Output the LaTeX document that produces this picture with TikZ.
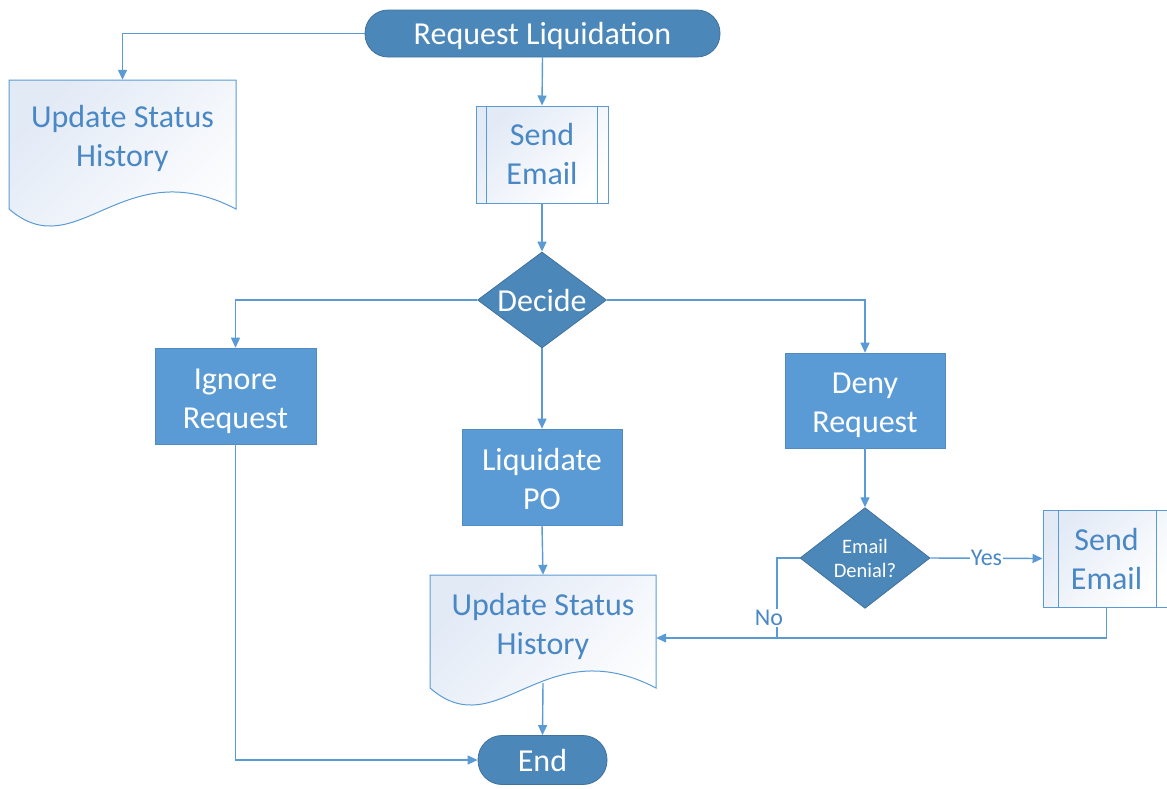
\documentclass[tikz,border=0pt]{standalone}
\usepackage{fontspec}
\setmainfont{Carlito}
\usetikzlibrary{arrows.meta,shapes.geometric}
\definecolor{ln}{HTML}{5B9BD5}
\definecolor{dk}{HTML}{4C87BA}
\definecolor{dkb}{HTML}{41719C}
\definecolor{md}{HTML}{5B9BD5}
\definecolor{tx}{HTML}{4A88C5}
\definecolor{lt}{HTML}{E2EAF6}
\newcommand\twolines[2]{\rule{0pt}{1.08em}#1\\#2\rule[-0.27em]{0pt}{0.27em}}
\newcommand\mydocshape[4]{%
  \path[draw=ln, line width=1pt, top color=lt, bottom color=white, shading angle=45]
    (#1,#2) -- (#3,#2) -- (#3,#4)
    .. controls ({#1+0.5*(#3-#1)},{#4-59}) and ({#1+0.3*(#3-#1)},{#4+59}) .. (#1,#4) -- cycle;}
\begin{document}
\begin{tikzpicture}[x=1pt,y=-1pt,
  line/.style={draw=ln, line width=1.4pt},
  arr/.style={line, -{Triangle[length=10pt,width=9pt]}},
  big/.style={font=\fontsize{32}{39}\selectfont, align=center},
  term/.style={big, rectangle, fill=dk, draw=dkb, line width=0.8pt, text=white, inner sep=0pt},
  proc/.style={big, rectangle, fill=md, draw=md!90!black, line width=0.6pt, text=white, inner sep=0pt, minimum width=160pt, minimum height=96pt},
  dec/.style={diamond, fill=dk, draw=dkb, line width=0.8pt, text=white, inner sep=0pt, align=center},
  pre/.style={big, rectangle, draw=ln, line width=1pt, top color=lt, bottom color=white, shading angle=45, text=tx, inner sep=0pt},
  doctext/.style={big, rectangle, text=tx, inner sep=0pt},
  lab/.style={font=\fontsize{24}{28}\selectfont, text=tx, fill=white, inner sep=1pt}]
\useasboundingbox (0,0) rectangle (1167,788);

% shapes
\node[term, rounded corners=23pt, minimum width=355pt, minimum height=47pt] (req) at (542.5,33.5) {\rule{0pt}{0.84em}Request Liquidation};

\mydocshape{9}{80}{236}{209}
\node[doctext, minimum width=227pt, minimum height=109pt] (doc1) at (122.5,134.5) {\twolines{Update Status}{History}};

\node[pre, minimum width=132pt, minimum height=97pt] (sendA) at (542,154.5) {Send\\Email};
\draw[draw=ln, line width=1pt] ([xshift=11pt]sendA.north west) -- ([xshift=11pt]sendA.south west)
  ([xshift=-11pt]sendA.north east) -- ([xshift=-11pt]sendA.south east);

\node[dec, big, minimum width=129pt, minimum height=96pt] (dec) at (542,300) {\makebox[0pt]{Decide}};

\node[proc, minimum width=161pt] (ign) at (235.5,396) {\twolines{Ignore}{Request}};
\node[proc] (liq) at (542,477) {\twolines{Liquidate}{PO}};
\node[proc, minimum height=95pt] (deny) at (865,400.5) {\twolines{Deny}{Request}};

\node[dec, font=\fontsize{20.5}{24}\selectfont, minimum width=130pt, minimum height=96pt] (ed) at (865,558) {Email\\Denial?};

\node[pre, minimum width=127pt, minimum height=97pt] (send2) at (1106.5,558.5) {Send\\Email};
\draw[draw=ln, line width=1pt] ([xshift=16pt]send2.north west) -- ([xshift=16pt]send2.south west)
  ([xshift=-14pt]send2.north east) -- ([xshift=-14pt]send2.south east);

\mydocshape{430}{575}{656}{688}
\node[doctext, minimum width=226pt, minimum height=94pt] (doc2) at (543,622) {\twolines{Update Status}{History}};

\node[term, rounded corners=24pt, minimum width=129pt, minimum height=49pt] (end) at (542.5,760) {End};

% connectors
\draw[arr] (req.west) -| (doc1.north);
\draw[arr] (req.south) -- (sendA.north);
\draw[arr] (sendA.south) -- (dec.north);
\draw[arr] (dec.west) -| (ign.north);
\draw[arr] (dec.east) -| (deny.north);
\draw[arr] (dec.south) -- (liq.north);
\draw[arr] (liq.south) -- (doc2.north);
\draw[arr] (deny.south) -- (ed.north);
\draw[arr] (ed.east) -- node[lab] {Yes} (send2.west);
\draw[arr] (send2.south) |- ([yshift=-16pt]doc2.east);
\coordinate (j) at (777,638);
\draw[line] (ed.west) -| (j);
\node[lab] (no) at (769,618) {No};
\draw[arr] ([yshift=-14pt]doc2.south) -- (end.north);
\draw[arr] (ign.south) |- (end.west);
\end{tikzpicture}
\end{document}
